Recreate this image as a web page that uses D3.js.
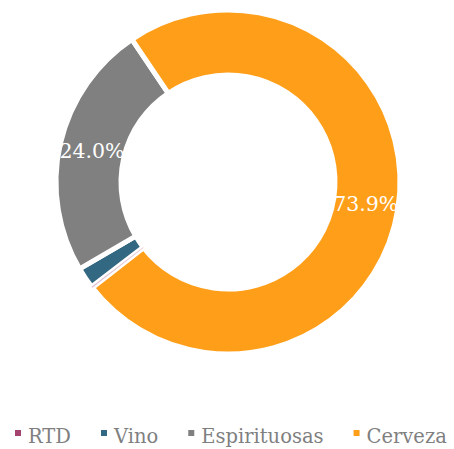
<!DOCTYPE html>
<html><head><meta charset="utf-8">
<script src="https://cdn.jsdelivr.net/npm/d3@7"></script>
<style>html,body{margin:0;padding:0;background:#fff;}</style>
</head><body>
<svg id="chart" width="454" height="449"></svg>
<script>
const categories = ["RTD", "Vino", "Espirituosas", "Cerveza"];
const values = [0.1, 2.0, 24.0, 73.9];
const labels = ["", "", "24.0%", "73.9%"];
const colors = ["#A4436E", "#336882", "#808080", "#FF9F19"];

const svg = d3.select("#chart");
const cx = 228, cy = 182, rOut = 172, rIn = 107;
const startDeg = 232.1;

const pie = d3.pie().sort(null).value(d => d)
  .startAngle(startDeg * Math.PI / 180)
  .endAngle((startDeg + 360) * Math.PI / 180);
const arcs = pie(values);
const arc = d3.arc().innerRadius(rIn).outerRadius(rOut);

const g = svg.append("g").attr("transform", `translate(${cx},${cy})`);
g.selectAll("path.slice").data(arcs).enter().append("path")
  .attr("class", "slice")
  .attr("d", arc)
  .attr("fill", (d, i) => colors[i])
  .attr("stroke", "#fff")
  .attr("stroke-width", 5)
  .attr("stroke-linejoin", "miter");
// tiny slice drawn over the gap, as in the original
g.append("path").attr("d", arc(arcs[0])).attr("fill", colors[0]).attr("opacity", 0.35);

const labArc = d3.arc().innerRadius((rIn + rOut) / 2).outerRadius((rIn + rOut) / 2);
g.selectAll("text.lab").data(arcs).enter().append("text")
  .attr("class", "lab")
  .attr("transform", d => `translate(${labArc.centroid(d)})`)
  .attr("text-anchor", "middle")
  .attr("dy", "0.36em")
  .attr("font-family", "DejaVu Serif")
  .attr("font-size", 20.5)
  .attr("fill", "#fff")
  .text((d, i) => labels[i]);

// legend
const leg = svg.append("g");
let x = 15;
categories.forEach((c, i) => {
  leg.append("rect").attr("x", x).attr("y", 430).attr("width", 6).attr("height", 6).attr("fill", colors[i]);
  const t = leg.append("text").attr("x", x + 13).attr("y", 443)
    .attr("font-family", "DejaVu Serif").attr("font-size", 19.5)
    .attr("fill", "#7f7f7f").text(c);
  x += 13 + t.node().getComputedTextLength() + 30;
});
</script>
</body></html>
